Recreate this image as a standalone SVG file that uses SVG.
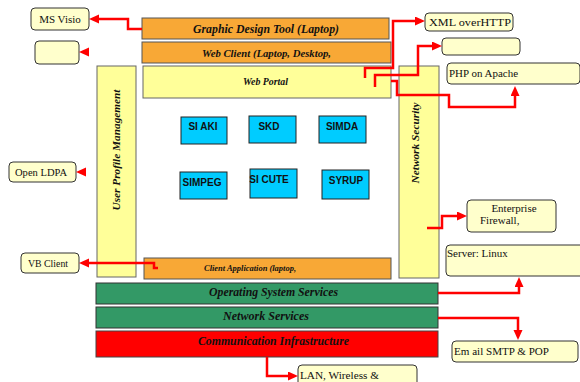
<svg xmlns="http://www.w3.org/2000/svg" width="580" height="382" viewBox="0 0 580 382">
  <style>
    .bar-orange { fill: #F8A836; stroke: #555; stroke-width: 1; }
    .bar-yellow { fill: #FFFF99; stroke: #666; stroke-width: 1; }
    .bar-green { fill: #339966; stroke: #333; stroke-width: 1; }
    .bar-red { fill: #FF0000; stroke: #444; stroke-width: 1; }
    .app { fill: #00CCFF; stroke: #222; stroke-width: 1; }
    .callout { fill: #FFFFCC; stroke: #333; stroke-width: 1; }
    .hdr { font-family: "Liberation Serif", "Times New Roman", serif; font-weight: bold; font-style: italic; fill: #111; }
    .app-t { font-family: "Liberation Sans", Arial, sans-serif; font-weight: bold; font-size: 10px; fill: #111; text-anchor: middle; }
    .note { font-family: "Liberation Serif", "Times New Roman", serif; font-size: 11px; fill: #111; }
    .link { fill: none; stroke: #FF0000; stroke-width: 2.5; marker-end: url(#arrow); }
  </style>
  <defs>
    <marker id="arrow" markerUnits="userSpaceOnUse" markerWidth="11" markerHeight="10" refX="2" refY="4.5" orient="auto">
      <path d="M0,0 L10,4.5 L0,9 z" fill="#FF0000"/>
    </marker>
  </defs>

  <!-- layered stack -->
  <g id="graphic-design-tool">
    <rect class="bar-orange" x="142" y="18" width="247" height="21"/>
    <text class="hdr" x="193" y="33" font-size="12" textLength="146" lengthAdjust="spacingAndGlyphs">Graphic Design Tool (Laptop)</text>
  </g>
  <g id="web-client">
    <rect class="bar-orange" x="142" y="42" width="249" height="21"/>
    <text class="hdr" x="202" y="57" font-size="10.5" textLength="129" lengthAdjust="spacingAndGlyphs">Web  Client  (Laptop,  Desktop,</text>
  </g>
  <g id="web-portal">
    <rect class="bar-yellow" x="143" y="66" width="248" height="32"/>
    <text class="hdr" x="243" y="85" font-size="10" textLength="45" lengthAdjust="spacingAndGlyphs">Web  Portal</text>
  </g>
  <g id="user-profile-management">
    <rect class="bar-yellow" x="97" y="66" width="39" height="211"/>
    <text class="hdr" transform="translate(120,150) rotate(-90)" font-size="11" text-anchor="middle" textLength="121" lengthAdjust="spacingAndGlyphs">User Profile  Management</text>
  </g>
  <g id="network-security">
    <rect class="bar-yellow" x="399" y="66" width="40" height="212"/>
    <text class="hdr" transform="translate(419,143) rotate(-90)" font-size="11" text-anchor="middle" textLength="81" lengthAdjust="spacingAndGlyphs">Network  Security</text>
  </g>
  <g id="client-application">
    <rect class="bar-orange" x="144" y="258" width="247" height="21"/>
    <text class="hdr" x="204" y="271" font-size="8" textLength="92" lengthAdjust="spacingAndGlyphs">Client  Application  (laptop,</text>
  </g>
  <g id="os-services">
    <rect class="bar-green" x="96" y="283" width="342" height="21"/>
    <text class="hdr" x="209" y="296" font-size="11.5" textLength="129" lengthAdjust="spacingAndGlyphs">Operating System Services</text>
  </g>
  <g id="network-services">
    <rect class="bar-green" x="96" y="307" width="342" height="21"/>
    <text class="hdr" x="223" y="320" font-size="11.5" textLength="86" lengthAdjust="spacingAndGlyphs">Network Services</text>
  </g>
  <g id="communication-infrastructure">
    <rect class="bar-red" x="96" y="331" width="342" height="26"/>
    <text class="hdr" x="198" y="345" font-size="11.5" textLength="151" lengthAdjust="spacingAndGlyphs">Communication Infrastructure</text>
  </g>

  <!-- applications -->
  <g id="si-aki">
    <rect class="app" x="181" y="117" width="46" height="27"/>
    <text class="app-t" x="203" y="130">SI AKI</text>
  </g>
  <g id="skd">
    <rect class="app" x="249" y="116" width="47" height="27"/>
    <text class="app-t" x="269" y="130">SKD</text>
  </g>
  <g id="simda">
    <rect class="app" x="319" y="116" width="47" height="27"/>
    <text class="app-t" x="342" y="130">SIMDA</text>
  </g>
  <g id="simpeg">
    <rect class="app" x="180" y="172" width="47" height="27"/>
    <text class="app-t" x="202" y="186">SIMPEG</text>
  </g>
  <g id="si-cute">
    <rect class="app" x="250" y="169" width="47" height="29"/>
    <text class="app-t" x="269" y="183">SI CUTE</text>
  </g>
  <g id="syrup">
    <rect class="app" x="322" y="170" width="47" height="29"/>
    <text class="app-t" x="346" y="184">SYRUP</text>
  </g>

  <!-- external components -->
  <g id="ms-visio">
    <rect class="callout" x="31" y="8" width="58" height="22" rx="4"/>
    <text class="note" x="60" y="23" text-anchor="middle">MS Visio</text>
  </g>
  <g id="blank-left">
    <rect class="callout" x="35" y="41" width="44" height="23" rx="4"/>
  </g>
  <g id="open-ldpa">
    <rect class="callout" x="9" y="162" width="67" height="20" rx="4"/>
    <text class="note" x="15" y="176" textLength="52" lengthAdjust="spacingAndGlyphs">Open  LDPA</text>
  </g>
  <g id="vb-client">
    <rect class="callout" x="21" y="253" width="58" height="20" rx="4"/>
    <text class="note" x="28" y="267" textLength="40" lengthAdjust="spacingAndGlyphs">VB  Client</text>
  </g>
  <g id="xml-over-http">
    <rect class="callout" x="425" y="13" width="88" height="18" rx="4"/>
    <text class="note" x="429" y="26" textLength="82" lengthAdjust="spacingAndGlyphs">XML overHTTP</text>
  </g>
  <g id="blank-right">
    <rect class="callout" x="442" y="38" width="78" height="17" rx="4"/>
  </g>
  <g id="php-apache">
    <rect class="callout" x="447" y="63" width="133" height="21" rx="4"/>
    <text class="note" x="449" y="77" textLength="69" lengthAdjust="spacingAndGlyphs">PHP  on  Apache</text>
  </g>
  <g id="enterprise-firewall">
    <rect class="callout" x="467" y="200" width="89" height="32" rx="4"/>
    <text class="note" x="514" y="212" text-anchor="middle">Enterprise</text>
    <text class="note" x="480" y="224">Firewall,</text>
  </g>
  <g id="server-linux">
    <rect class="callout" x="446" y="245" width="140" height="31" rx="4"/>
    <text class="note" x="447" y="257">Server: Linux</text>
  </g>
  <g id="email">
    <rect class="callout" x="452" y="341" width="126" height="21" rx="4"/>
    <text class="note" x="454" y="355" textLength="95" lengthAdjust="spacingAndGlyphs">Em ail SMTP &amp; POP</text>
  </g>
  <g id="lan-wireless">
    <rect class="callout" x="298" y="365" width="119" height="22" rx="4"/>
    <text class="note" x="300" y="379" textLength="79" lengthAdjust="spacingAndGlyphs">LAN,  Wireless  &amp;</text>
  </g>

  <!-- connectors -->
  <g id="connectors">
    <path class="link" d="M142,29 H128 V19 H97"/>
    <path class="link" d="M89,52 H87"/>
    <path class="link" d="M86,172 H84"/>
    <path class="link" d="M158,268 H154 V263 H87"/>
    <path class="link" d="M365,78 V68 H393 V21 H417"/>
    <path class="link" d="M375,87 V75 H418 V46 H434"/>
    <path class="link" d="M391,81 H397 V95 H449 V107 H515 V94"/>
    <path class="link" d="M427,228 H442 V216 H459"/>
    <path class="link" d="M438,293 H519 V285"/>
    <path class="link" d="M438,318 H518 V332"/>
    <path class="link" d="M267,357 V376 H290"/>
  </g>
</svg>
